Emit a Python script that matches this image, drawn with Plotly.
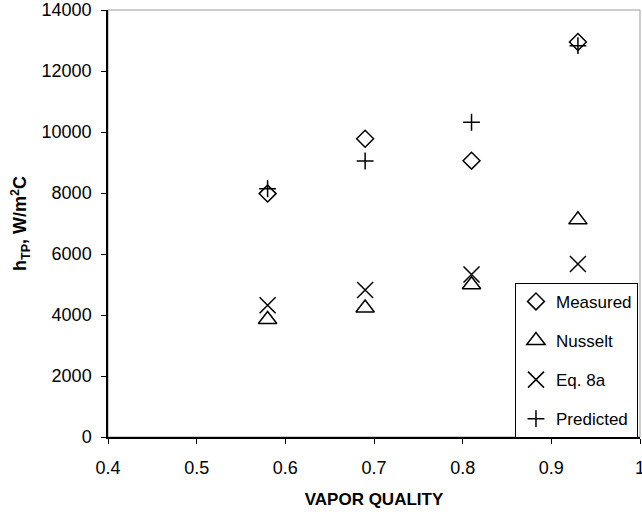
import plotly.graph_objects as go

vapor_quality = [0.58, 0.69, 0.81, 0.93]
measured = [7980, 9780, 9060, 12950]
nusselt = [3850, 4230, 4990, 7120]
eq8a = [4320, 4820, 5330, 5670]
predicted = [8140, 9050, 10320, 12830]

series = [
    ("Measured", measured, "diamond-open", 13),
    ("Nusselt", nusselt, "triangle-up-open", 16),
    ("Eq. 8a", eq8a, "x-thin-open", 16),
    ("Predicted", predicted, "cross-thin-open", 12),
]

fig = go.Figure()
for i, (name, vals, sym, sz) in enumerate(series):
    fig.add_trace(go.Scatter(
        x=vapor_quality, y=vals, mode="markers", name=name,
        legendgroup=f"g{i}",
        marker=dict(symbol=sym, size=sz, color="black",
                    line=dict(color="black", width=1.5)),
    ))

font = "Liberation Sans, Arial, sans-serif"
fig.update_layout(
    width=642, height=514,
    margin=dict(l=108, r=2, t=10, b=77),
    paper_bgcolor="white", plot_bgcolor="white",
    font=dict(family=font, size=18, color="black"),
    showlegend=True,
    legend=dict(
        x=0.765, y=0.361, xanchor="left", yanchor="top",
        bgcolor="white", bordercolor="black", borderwidth=1,
        font=dict(family=font, size=17, color="black"),
        tracegroupgap=14, itemwidth=30,
    ),
    xaxis=dict(
        range=[0.4, 1.0], dtick=0.1, tick0=0.4,
        tickformat=".1~f", automargin=False, ticklabeloverflow="allow",
        ticklabelstandoff=9,
        showgrid=False, zeroline=False,
        showline=True, linecolor="black", linewidth=1.5,
        ticks="outside", ticklen=5, tickcolor="black",
        tickfont=dict(size=18),
        title=dict(text="<b>VAPOR QUALITY</b>", font=dict(size=17), standoff=16),
    ),
    yaxis=dict(
        range=[0, 14000], dtick=2000,
        tickformat="d", automargin=False, ticklabeloverflow="allow",
        ticklabelstandoff=6,
        showgrid=False, zeroline=False,
        showline=True, linecolor="black", linewidth=1.5,
        ticks="outside", ticklen=5, tickcolor="black",
        tickfont=dict(size=18),
        title=dict(text="<b>h<sub>TP</sub>, W/m<sup>2</sup>C</b>", font=dict(size=18), standoff=10),
    ),
    shapes=[dict(type="rect", xref="paper", yref="paper", x0=0, y0=0, x1=1, y1=1,
                 line=dict(color="#999999", width=1), layer="below")],
)

fig.write_html("out.html", config={"displayModeBar": False},
               post_script="document.body.style.margin='0';")
